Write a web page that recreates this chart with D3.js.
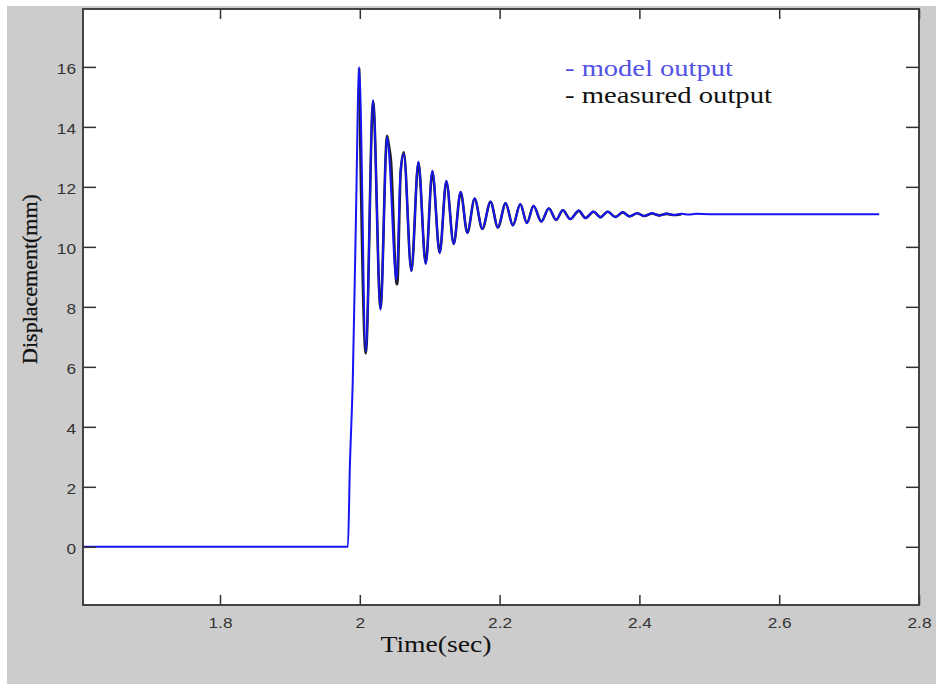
<!DOCTYPE html>
<html>
<head>
<meta charset="utf-8">
<script src="https://cdn.jsdelivr.net/npm/d3@7.9.0/dist/d3.min.js"></script>
<style>
  body { margin: 0; background: #fff; }
  svg { display: block; }
  .tick text { font-family: "Liberation Sans", Arial, sans-serif; font-size: 15px; fill: #333; }
  .lbl { font-family: "Liberation Serif", "Times New Roman", serif; }
</style>
</head>
<body>
<svg id="chart" width="936" height="684"></svg>
<script>
// model output (blue)
const modelTime = [1.604, 1.983, 1.9857, 1.990, 1.9945, 1.999, 2.0086, 2.019, 2.0296, 2.039, 2.0415,
  2.0524, 2.0585, 2.0629, 2.0738, 2.0838, 2.0943, 2.1038, 2.1143, 2.1238, 2.1343, 2.1443, 2.1538,
  2.1643, 2.1753, 2.187, 2.1976, 2.2086, 2.219, 2.2296, 2.239, 2.2486, 2.2596, 2.2704, 2.281,
  2.2904, 2.301, 2.3133, 2.3229, 2.3343, 2.3443, 2.3547, 2.3657, 2.3762, 2.3857, 2.3967, 2.4071,
  2.4181, 2.4286, 2.439, 2.449, 2.4604, 2.4704, 2.481, 2.50, 2.743];
const modelDisp = [0, 0, 2.6, 5.6, 11.0, 16.0, 6.5, 14.9, 7.9, 13.66, 13.2,
  8.9, 12.6, 13.1, 9.2, 12.84, 9.43, 12.54, 9.79, 12.2, 10.1, 11.84, 10.46,
  11.62, 10.6, 11.51, 10.64, 11.46, 10.71, 11.43, 10.79, 11.37, 10.84, 11.29, 10.9,
  11.23, 10.92, 11.21, 10.96, 11.18, 10.98, 11.18, 10.99, 11.16, 11.01, 11.12, 11.03,
  11.12, 11.04, 11.11, 11.06, 11.10, 11.08, 11.10, 11.09, 11.09];

// measured output (black)
const measTime = [1.999, 2.0086, 2.019, 2.0296, 2.039, 2.0415, 2.0445, 2.0524, 2.0535, 2.0585, 2.0629,
  2.0738, 2.0838, 2.0943, 2.1038, 2.1143, 2.1238, 2.1343, 2.1443, 2.1538, 2.1643, 2.1753, 2.187,
  2.1976, 2.2086, 2.219, 2.2296, 2.239, 2.2486, 2.2596, 2.2704, 2.281, 2.2904, 2.301, 2.3133,
  2.3229, 2.3343, 2.3443, 2.3547, 2.3657, 2.3762, 2.3857, 2.3967, 2.4071, 2.4181, 2.4286, 2.439, 2.449, 2.46];
const measDisp = [15.95, 6.45, 14.85, 7.95, 13.7, 13.4, 12.9, 8.8, 8.75, 12.5, 13.15,
  9.2, 12.8, 9.45, 12.5, 9.8, 12.18, 10.1, 11.82, 10.47, 11.6, 10.6, 11.5,
  10.65, 11.45, 10.72, 11.42, 10.8, 11.36, 10.85, 11.28, 10.9, 11.22, 10.93, 11.2,
  10.96, 11.17, 10.99, 11.17, 11.0, 11.15, 11.02, 11.12, 11.03, 11.11, 11.05, 11.1, 11.06, 11.09];

const xTicks = [1.8, 2, 2.2, 2.4, 2.6, 2.8];
const yTicks = [0, 2, 4, 6, 8, 10, 12, 14, 16];

const svg = d3.select('#chart');

// gray figure background
svg.append('rect').attr('x', 7).attr('y', 6).attr('width', 929).attr('height', 678).attr('fill', '#cccccc');

const pl = 83, pr = 919, pt = 9, pb = 605;
svg.append('rect').attr('x', pl).attr('y', pt).attr('width', pr - pl).attr('height', pb - pt)
  .attr('fill', '#fff');

const x = d3.scaleLinear().domain([1.604, 2.8]).range([pl, pr]);
const y = d3.scaleLinear().domain([-1.94, 17.93]).range([pb, pt]);

const line = d3.line().x((d) => x(d[0])).y((d) => y(d[1])).curve(d3.curveMonotoneX);

svg.append('clipPath').attr('id', 'clip').append('rect')
  .attr('x', pl).attr('y', pt).attr('width', pr - pl).attr('height', pb - pt);

const plot = svg.append('g').attr('clip-path', 'url(#clip)');

plot.append('path')
  .datum(measTime.map((t, i) => [t, measDisp[i]]))
  .attr('d', line).attr('fill', 'none').attr('stroke', '#222')
  .attr('stroke-width', 2.6).attr('stroke-linejoin', 'round');

plot.append('path')
  .datum(modelTime.map((t, i) => [t, modelDisp[i]]))
  .attr('d', line).attr('fill', 'none').attr('stroke', '#1515f5')
  .attr('stroke-width', 2).attr('stroke-linejoin', 'round');

// the original figure is stretched sideways, so widen the tick labels a bit
const stretchText = (sel) => sel.each(function () {
  const w = this.getComputedTextLength();
  if (w > 0) d3.select(this).attr('textLength', w * 1.15).attr('lengthAdjust', 'spacingAndGlyphs');
});

// axes: ticks point inward, mirrored on top and right
const axisStyle = (g) => {
  g.select('.domain').remove();
  g.selectAll('.tick line').attr('stroke', '#333').attr('stroke-width', 1.5);
  g.selectAll('.tick text').call(stretchText);
};

svg.append('g').attr('transform', `translate(0,${pb})`)
  .call(d3.axisBottom(x).tickValues(xTicks).tickFormat(d3.format('')).tickSizeInner(-10).tickPadding(12))
  .call(axisStyle);
svg.append('g').attr('transform', `translate(0,${pt})`)
  .call(d3.axisTop(x).tickValues(xTicks).tickSizeInner(-10).tickFormat(''))
  .call(axisStyle);
svg.append('g').attr('transform', `translate(${pl},0)`)
  .call(d3.axisLeft(y).tickValues(yTicks).tickSizeInner(-13).tickPadding(7))
  .call(axisStyle)
  .selectAll('.tick text').attr('dy', '0.45em');
svg.append('g').attr('transform', `translate(${pr},0)`)
  .call(d3.axisRight(y).tickValues(yTicks).tickSizeInner(-13).tickFormat(''))
  .call(axisStyle);

svg.append('rect').attr('x', pl).attr('y', pt).attr('width', pr - pl).attr('height', pb - pt)
  .attr('fill', 'none').attr('stroke', '#333').attr('stroke-width', 1.8);

// labels
svg.append('text').attr('class', 'lbl').attr('x', 436).attr('y', 652)
  .attr('text-anchor', 'middle').attr('font-size', 23).attr('fill', '#111')
  .attr('textLength', 111).attr('lengthAdjust', 'spacingAndGlyphs').text('Time(sec)');
svg.append('text').attr('class', 'lbl')
  .attr('transform', 'translate(37,279) rotate(-90)')
  .attr('text-anchor', 'middle').attr('font-size', 22).attr('fill', '#111')
  .attr('stroke', '#111').attr('stroke-width', 0.3).text('Displacement(mm)');

svg.append('text').attr('class', 'lbl').attr('x', 565).attr('y', 76)
  .attr('font-size', 23).attr('fill', '#5252e4')
  .attr('textLength', 168).attr('lengthAdjust', 'spacingAndGlyphs').text('- model output');
svg.append('text').attr('class', 'lbl').attr('x', 565).attr('y', 103)
  .attr('font-size', 23).attr('fill', '#111')
  .attr('textLength', 207).attr('lengthAdjust', 'spacingAndGlyphs').text('- measured output');
</script>
</body>
</html>
